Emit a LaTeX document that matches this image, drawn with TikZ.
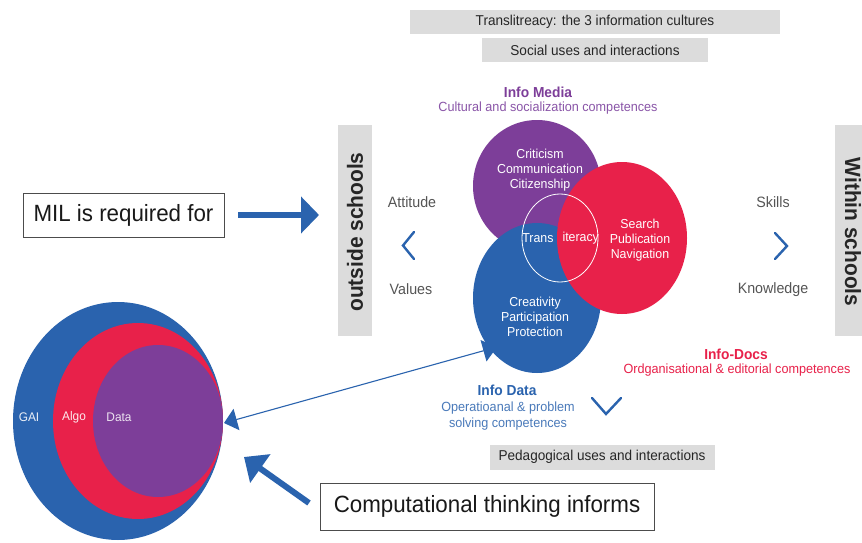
\documentclass[tikz,border=0pt]{standalone}
\usepackage{fontspec}
\setmainfont{Liberation Sans}[FakeStretch=0.95]
\usetikzlibrary{arrows.meta}
\definecolor{cpurple}{HTML}{7D3E99}
\definecolor{cred}{HTML}{E8214A}
\definecolor{cblue}{HTML}{2A63AE}
\definecolor{cgray}{HTML}{DCDCDC}
\definecolor{ctext}{HTML}{555555}
\definecolor{lpurple}{HTML}{8A55A8}
\tikzset{
  graybox/.style={fill=cgray, inner sep=0pt, font=\fontsize{14.3}{16}\selectfont, text=black!85},
  wtxt/.style={text=white, align=center, font=\fontsize{13}{15}\selectfont},
  side/.style={text=ctext, font=\fontsize{15}{17}\selectfont},
  chev/.style={draw=cblue, line width=2.4pt, line cap=round, line join=miter},
  bigarrow/.style={draw=cblue, line width=6pt, -{Triangle[length=18pt,width=36pt]}},
  thinarrow/.style={draw=cblue, line width=1.1pt, {Triangle[length=13pt,width=22pt]}-{Triangle[length=14pt,width=22pt]}},
  framed/.style={draw=black!70, line width=0.8pt, fill=white, inner sep=0pt, text=black!90},
}
\begin{document}
\begin{tikzpicture}[x=1pt,y=-1pt]
\useasboundingbox (0,0) rectangle (862,543);
\fill[white] (0,0) rectangle (862,543);

% top boxes
\node[graybox, minimum width=370pt, minimum height=24pt] (t1) at (595,22) {Translitreacy: the 3 information cultures};
\node[graybox, minimum width=226pt, minimum height=24pt] (t2) at (595,50) {Social uses and interactions};
\node[graybox, minimum width=225pt, minimum height=25pt] (ped) at (602,457) {Pedagogical uses and interactions};

% labels of cultures
\node[text=cpurple, font=\bfseries\fontsize{14.5}{16}\selectfont] (im) at (538,92) {Info Media};
\node[text=lpurple, font=\fontsize{13.3}{15}\selectfont] (imc) at (548,108) {Cultural and socialization competences};
\node[text=cred, font=\bfseries\fontsize{14.5}{16}\selectfont] (id) at (736,354) {Info-Docs};
\node[text=cred, font=\fontsize{13.3}{15}\selectfont] (idc) at (737,370) {Ordganisational \& editorial competences};
\node[text=cblue, font=\bfseries\fontsize{14.5}{16}\selectfont] (idt) at (507,390) {Info Data};
\node[text=cblue!85!white, align=center, font=\fontsize{13.3}{15.5}\selectfont] (idtc) at (508,416) {Operatioanal \& problem\\solving competences};

% venn
\fill[cpurple] (537,186) ellipse [x radius=64, y radius=66];
\fill[cblue] (537,298) ellipse [x radius=64, y radius=75];
\fill[cred] (622,238) ellipse [x radius=65, y radius=76];
\draw[white, line width=0.8pt] (560,238) ellipse [x radius=38, y radius=44];
\node[wtxt] (pm) at (540,170) {Criticism\\Communication\\Citizenship};
\node[wtxt] (rd) at (640,240) {Search\\Publication\\Navigation};
\node[wtxt] (bl) at (535,317) {Creativity\\Participation\\Protection};
\node[wtxt, anchor=east] (tr1) at (557,238) {Trans};
\node[wtxt, anchor=west] (tr2) at (559,238) {iteracy};

% side bars
\fill[cgray] (338,125) rectangle (372,336);
\node[rotate=90, font=\bfseries\fontsize{22}{24}\selectfont, text=black!85] (out) at (355,232) {outside schools};
\fill[cgray] (835,125) rectangle (862,336);
\node[rotate=-90, font=\bfseries\fontsize{22}{24}\selectfont, text=black!85] (win) at (853,232) {Within schools};

% attitude / skills
\node[side] (att) at (412,202) {Attitude};
\node[side] (val) at (411,289) {Values};
\node[side] (sk) at (773,202) {Skills};
\node[side] (kn) at (773,290) {Knowledge};
\draw[chev] (414,232) -- (403,245.5) -- (414,259);
\draw[chev] (775,233) -- (787,246) -- (775,259);
\draw[chev] (592,398) -- (606,414) -- (621,398);

% MIL box and arrow
\node[framed, minimum width=201pt, minimum height=44pt, font=\fontsize{23.5}{26}\selectfont] (mil) at (123.5,215) {MIL is required for};
\coordinate (a1) at (238,215);
\coordinate (a2) at (319,215);
\draw[bigarrow] (a1) -- (a2);

% left nested circles
\fill[cblue] (118,421) ellipse [x radius=105, y radius=119];
\fill[cred] (138,421) ellipse [x radius=85, y radius=98];
\fill[cpurple] (158,421) ellipse [x radius=65, y radius=76];
\node[text=white!90!cblue, font=\fontsize{12.5}{14}\selectfont] (gai) at (29,417) {GAI};
\node[text=white!90!cred, font=\fontsize{12.5}{14}\selectfont] (algo) at (74,417) {Algo};
\node[text=white!85!cpurple, font=\fontsize{12.5}{14}\selectfont] (data) at (119,417) {Data};

% thin double arrow
\coordinate (d1) at (224,423);
\coordinate (d2) at (497,347);
\draw[thinarrow] (d1) -- (d2);

% computational thinking
\node[framed, minimum width=334pt, minimum height=47pt, font=\fontsize{23.5}{26}\selectfont] (ct) at (487,506.5) {Computational thinking informs};
\coordinate (b1) at (309,503);
\coordinate (b2) at (244,457);
\draw[draw=cblue, line width=6pt, -{Triangle[length=20pt,width=34pt]}] (b1) -- (b2);
\end{tikzpicture}
\end{document}
